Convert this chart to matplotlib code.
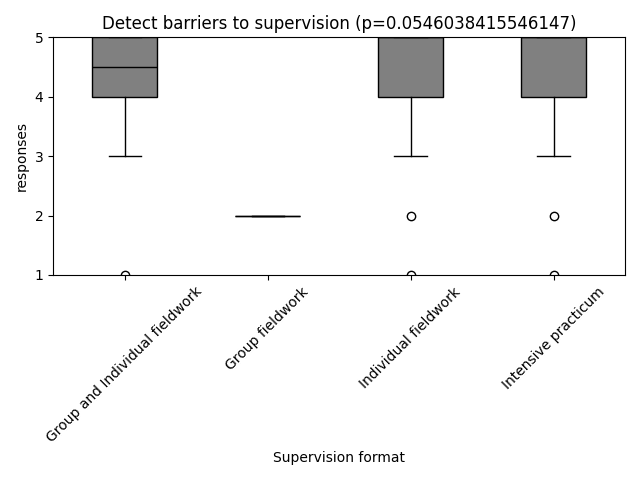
import matplotlib
matplotlib.use("Agg")
import matplotlib.pyplot as plt

formats = ["Group and Individual fieldwork", "Group fieldwork",
           "Individual fieldwork", "Intensive practicum"]
group_and_individual = [1, 3, 4, 4, 4, 5, 5, 5, 5, 5]
group = [2, 2, 2]
individual = [1, 2, 3, 4, 4, 4, 4, 5, 5, 5, 5, 5, 5, 5, 5, 5]
intensive = [1, 2, 3, 4, 4, 4, 4, 5, 5, 5, 5, 5, 5, 5, 5, 5]
p_value = 0.0546038415546147

fig, ax = plt.subplots(figsize=(6.4, 4.8), dpi=100)
ax.boxplot([group_and_individual, group, individual, intensive],
           patch_artist=True,
           boxprops=dict(facecolor="grey", edgecolor="black"),
           medianprops=dict(color="black"))
ax.set_xticks(range(1, 5))
ax.set_xticklabels(formats, rotation=45)
ax.set_ylim(1, 5)
ax.set_yticks([1, 2, 3, 4, 5])
ax.set_xlabel("Supervision format")
ax.set_ylabel("responses")
ax.set_title(f"Detect barriers to supervision (p={p_value})")
fig.tight_layout()
fig.savefig("out.png")
